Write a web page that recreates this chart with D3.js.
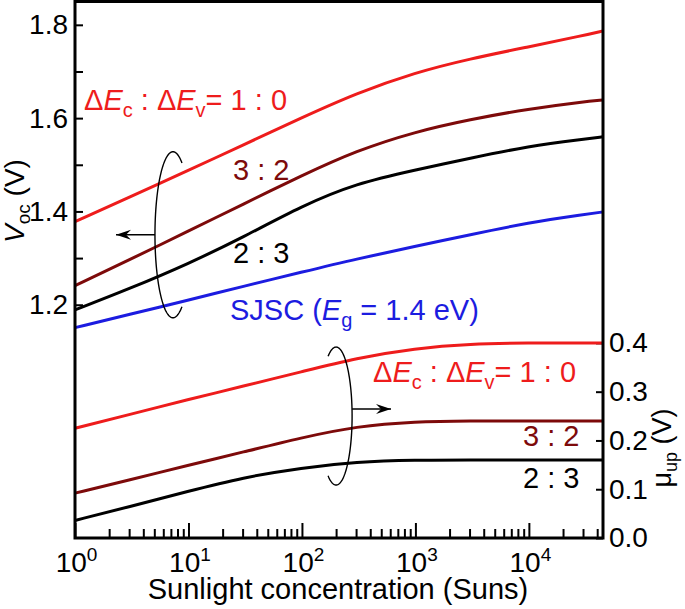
<!DOCTYPE html>
<html>
<head>
<meta charset="utf-8">
<script src="https://cdn.jsdelivr.net/npm/d3@7"></script>
<style>
body { margin: 0; background: #fff; }
text { font-family: "Liberation Sans", Arial, sans-serif; }
</style>
</head>
<body>
<script>
// sunlight concentration (suns)
var suns = [1, 3, 10, 30, 100, 300, 1000, 3000, 10000, 30000, 45000];

// Voc (V), left axis
var vocRed   = [1.378, 1.430, 1.488, 1.542, 1.601, 1.653, 1.698, 1.727, 1.753, 1.777, 1.787];
var vocDark  = [1.241, 1.296, 1.358, 1.415, 1.477, 1.530, 1.571, 1.597, 1.620, 1.635, 1.639];
var vocBlack = [1.189, 1.234, 1.288, 1.344, 1.412, 1.460, 1.489, 1.514, 1.540, 1.555, 1.560];
var vocSJSC  = [1.151, 1.179, 1.210, 1.239, 1.270, 1.298, 1.325, 1.350, 1.376, 1.393, 1.399];

// mu_up (V), right axis
var muRed   = [0.225, 0.253, 0.284, 0.311, 0.341, 0.369, 0.389, 0.398, 0.400, 0.400, 0.400];
var muDark  = [0.092, 0.119, 0.149, 0.176, 0.206, 0.229, 0.239, 0.240, 0.240, 0.240, 0.240];
var muBlack = [0.036, 0.064, 0.096, 0.124, 0.144, 0.156, 0.160, 0.160, 0.160, 0.160, 0.160];

var xMajor = [1, 10, 100, 1000, 10000];
var yLeftTicks = [1.2, 1.3, 1.4, 1.5, 1.6, 1.7, 1.8];
var yLeftLabels = [1.2, 1.4, 1.6, 1.8];
var yRightTicks = [0, 0.1, 0.2, 0.3, 0.4];

var RED = '#ee1c1c', DARK = '#7d0a0a', BLUE = '#1c1ce0', BLACK = '#000';
var FONT = '"Liberation Sans", Arial, sans-serif';

var svg = d3.select('body').append('svg')
    .attr('width', 685)
    .attr('height', 609)

var x = d3.scaleLog().domain([1, 45000]).range([75, 603])
var yL = d3.scaleLinear().domain([0.7, 1.85]).range([538, 1.5])
var yR = d3.scaleLinear().domain([0, 1.1]).range([538, 1.5])

var xMinor = []
for (var e = 0; e <= 4; e++) {
    for (var m = 2; m <= 9; m++) {
        var v = m * Math.pow(10, e)
        if (v < 45000) xMinor.push(v)
    }
}

// minor x ticks
svg.append('g')
    .attr('transform', 'translate(0,538)')
    .call(d3.axisBottom(x).tickValues(xMinor).tickSize(-9).tickFormat(''))
    .call(function (g) { g.select('.domain').remove() })
    .selectAll('line').attr('stroke-width', 2)

// major x ticks
var gx = svg.append('g')
    .attr('transform', 'translate(0,538)')
    .call(d3.axisBottom(x).tickValues(xMajor).tickSize(-15).tickPadding(14).tickFormat(''))
gx.select('.domain').remove()
gx.selectAll('line').attr('stroke-width', 2)
gx.selectAll('.tick text').each(function (d) {
    var t = d3.select(this)
        .attr('font-size', 28)
        .attr('fill', '#000')
        .attr('font-family', FONT)
        .attr('dx', 1)
    t.append('tspan').text('10')
    t.append('tspan').attr('font-size', 19).attr('dy', -11).text(Math.round(Math.log10(d)))
})

// left axis
var gl = svg.append('g')
    .attr('transform', 'translate(75,0)')
    .call(d3.axisLeft(yL).tickValues(yLeftTicks).tickSize(-8).tickPadding(7)
        .tickFormat(function (d) { return yLeftLabels.some(function (l) { return Math.abs(l - d) < 1e-6 }) ? d3.format('.1f')(d) : '' }))
gl.select('.domain').remove()
gl.selectAll('line').attr('stroke-width', 2)
gl.selectAll('text').attr('font-size', 28).attr('fill', '#000').attr('font-family', FONT)

// right axis
var gr = svg.append('g')
    .attr('transform', 'translate(603,0)')
    .call(d3.axisRight(yR).tickValues(yRightTicks).tickSize(-7).tickPadding(6).tickFormat(d3.format('.1f')))
gr.select('.domain').remove()
gr.selectAll('line').attr('stroke-width', 2)
gr.selectAll('text').attr('font-size', 28).attr('fill', '#000').attr('font-family', FONT)

// curves
var lineL = d3.line()
    .x(function (d) { return x(d[0]) })
    .y(function (d) { return yL(d[1]) })
    .curve(d3.curveBasis)
var lineR = d3.line()
    .x(function (d) { return x(d[0]) })
    .y(function (d) { return yR(d[1]) })
    .curve(d3.curveBasis)

var series = [
    { v: vocRed, c: RED, f: lineL },
    { v: vocDark, c: DARK, f: lineL },
    { v: vocBlack, c: BLACK, f: lineL },
    { v: vocSJSC, c: BLUE, f: lineL },
    { v: muRed, c: RED, f: lineR },
    { v: muDark, c: DARK, f: lineR },
    { v: muBlack, c: BLACK, f: lineR }
]

svg.selectAll('path.curve')
    .data(series)
    .enter().append('path')
    .attr('class', 'curve')
    .attr('fill', 'none')
    .attr('stroke', function (d) { return d.c })
    .attr('stroke-width', 3)
    .attr('d', function (d) { return d.f(d3.zip(suns, d.v)) })

// frame
svg.append('rect')
    .attr('x', 75).attr('y', 1.5)
    .attr('width', 528).attr('height', 536.5)
    .attr('fill', 'none').attr('stroke', '#000').attr('stroke-width', 3)

// rich text helper
function rich(x0, y0, color, parts, size) {
    var t = svg.append('text')
        .attr('x', x0).attr('y', y0)
        .attr('fill', color)
        .attr('font-size', size || 29)
    parts.forEach(function (p) {
        var s = t.append('tspan').text(p.t)
        if (p.i) s.attr('font-style', 'italic')
        if (p.sub) s.attr('font-size', 20).attr('dy', 7)
        if (p.back) s.attr('dy', p.back)
    })
    return t
}

function ratioLabel(x0, y0) {
    rich(x0, y0, RED, [
        { t: 'Δ' }, { t: 'E', i: 1 }, { t: 'c', sub: 1 },
        { t: ' : Δ', back: -7 }, { t: 'E', i: 1 }, { t: 'v', sub: 1 },
        { t: '= 1 : 0', back: -7 }
    ])
}

ratioLabel(84, 110)
rich(233, 180, DARK, [{ t: '3 : 2' }])
rich(233, 263, BLACK, [{ t: '2 : 3' }])
rich(230, 320, BLUE, [
    { t: 'SJSC (' }, { t: 'E', i: 1 }, { t: 'g', sub: 1 }, { t: ' = 1.4 eV)', back: -7 }
])

ratioLabel(373, 382)
rich(523, 446, DARK, [{ t: '3 : 2' }])
rich(523, 488, BLACK, [{ t: '2 : 3' }])

// axis titles
svg.append('text')
    .attr('x', 338).attr('y', 599)
    .attr('text-anchor', 'middle')
    .attr('font-size', 29)
    .text('Sunlight concentration (Suns)')

var tl = svg.append('text')
    .attr('transform', 'translate(24,201) rotate(-90)')
    .attr('text-anchor', 'middle')
    .attr('font-size', 28)
tl.append('tspan').attr('font-style', 'italic').text('V')
tl.append('tspan').attr('font-size', 19).attr('dy', 6).text('oc')
tl.append('tspan').attr('dy', -6).text(' (V)')

var tr = svg.append('text')
    .attr('transform', 'translate(671,448) rotate(-90)')
    .attr('text-anchor', 'middle')
    .attr('font-size', 27)
tr.append('tspan').text('μ')
tr.append('tspan').attr('font-size', 18).attr('dy', 6).text('up')
tr.append('tspan').attr('dy', -6).text(' (V)')

// ellipse arcs with arrows
function ellipseArc(cx, cy, rx, ry, a0, a1) {
    var pts = d3.range(a0, a1 + 0.5, 2).map(function (a) {
        var r = a * Math.PI / 180
        return [cx + rx * Math.cos(r), cy + ry * Math.sin(r)]
    })
    svg.append('path')
        .attr('d', d3.line()(pts))
        .attr('fill', 'none').attr('stroke', '#000').attr('stroke-width', 1.4)
}

function arrow(x0, x1, y) {
    svg.append('line')
        .attr('x1', x0).attr('x2', x1).attr('y1', y).attr('y2', y)
        .attr('stroke', '#000').attr('stroke-width', 1.4)
    var dir = x1 > x0 ? 1 : -1
    var p = d3.path()
    p.moveTo(x1, y)
    p.lineTo(x1 - dir * 15, y - 5)
    p.lineTo(x1 - dir * 10, y)
    p.lineTo(x1 - dir * 15, y + 5)
    p.closePath()
    svg.append('path').attr('d', p.toString()).attr('fill', '#000')
}

var c1x = x(7.3), c1y = yL(1.35)
ellipseArc(c1x, c1y, 18, 83, 60, 300)
arrow(c1x - 18, 116, c1y)

var c2x = x(200), c2y = yR(0.25)
ellipseArc(c2x, c2y, 16, 69, -120, 120)
arrow(c2x + 16, 391, c2y - 7)
</script>
</body>
</html>
